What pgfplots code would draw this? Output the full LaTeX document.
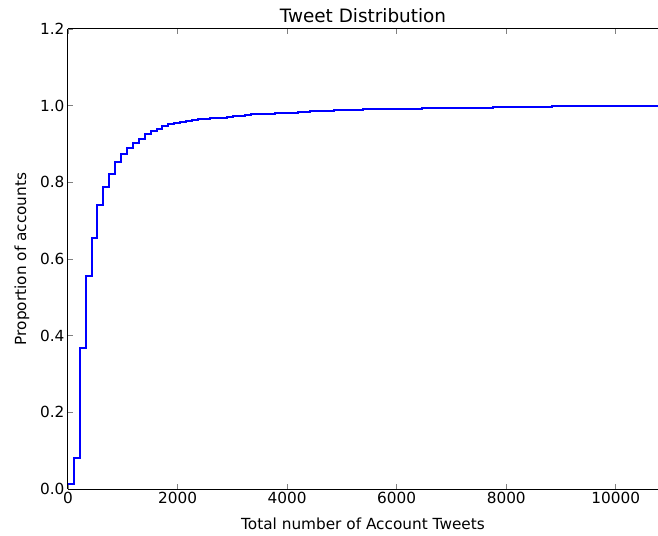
\documentclass[border=0pt]{standalone}
\usepackage{fontspec}
\setmainfont{DejaVu Sans}
\usepackage{pgfplots}
\pgfplotsset{compat=1.18}
\definecolor{mplblue}{rgb}{0,0,1}
\begin{document}
\begin{tikzpicture}
\begin{axis}[
  scale only axis,
  width=590pt, height=460pt,
  xmin=0, xmax=10770, ymin=0, ymax=1.2,
  axis x line*=box, axis y line*=left,
  xtick={0,2000,4000,6000,8000,10000},
  ytick={0,0.2,0.4,0.6,0.8,1.0,1.2},
  scaled x ticks=false,
  tick align=inside,
  major tick length=5pt,
  minor tick num=0,
  tick style={line width=0.8pt},
  axis line style={line width=1pt},
  /pgf/number format/assume math mode=true,
  x tick label style={/pgf/number format/1000 sep={}, font=\fontsize{15.3}{18}\selectfont},
  y tick label style={/pgf/number format/.cd, fixed, fixed zerofill, precision=1, /tikz/font=\fontsize{15.3}{18}\selectfont},
  xlabel={Total number of Account Tweets},
  ylabel={Proportion of accounts},
  label style={font=\fontsize{15.3}{18}\selectfont},
  xlabel style={yshift=-7pt},
  ylabel style={yshift=4pt},
  title={Tweet Distribution},
  title style={font=\fontsize{18.4}{22}\selectfont, yshift=-3pt},
  clip=true,
]
\addplot[const plot mark left, color=mplblue, line width=2pt, mark=none] table[row sep=\\] {
x y\\
0 0.013\\ 107.7 0.082\\ 215.4 0.369\\ 323.1 0.556\\ 430.8 0.656\\
538.5 0.741\\ 646.2 0.787\\ 753.9 0.822\\ 861.6 0.852\\ 969.3 0.874\\
1077 0.889\\ 1184.7 0.903\\ 1292.4 0.914\\ 1400.1 0.925\\ 1507.8 0.935\\
1615.5 0.940\\ 1723.2 0.946\\ 1830.9 0.951\\ 1938.6 0.955\\ 2046.3 0.958\\
2154 0.960\\ 2261.7 0.962\\ 2369.4 0.964\\ 2477.1 0.966\\ 2584.8 0.967\\
2692.5 0.968\\ 2800.2 0.969\\ 2907.9 0.970\\ 3015.6 0.972\\ 3123.3 0.973\\
3231 0.975\\ 3338.7 0.977\\ 3446.4 0.978\\ 3554.1 0.979\\ 3769.5 0.980\\
3984.9 0.981\\ 4092.6 0.982\\ 4200.3 0.983\\ 4308 0.984\\ 4415.7 0.985\\
4523.4 0.986\\ 4738.8 0.987\\ 4846.5 0.988\\ 5061.9 0.989\\ 5385 0.990\\
5708.1 0.991\\ 6031.2 0.992\\ 6462 0.993\\ 6892.8 0.994\\ 7323.6 0.995\\
7754.4 0.996\\ 8292.9 0.997\\ 8831.4 0.998\\ 9477.6 0.999\\ 10231.5 1.000\\
10770 1.000\\
};
\end{axis}
\pgfresetboundingbox
\path[use as bounding box] (current axis.south west) ++(-68pt,-46pt) rectangle ++(658pt,535pt);
\end{tikzpicture}
\end{document}
